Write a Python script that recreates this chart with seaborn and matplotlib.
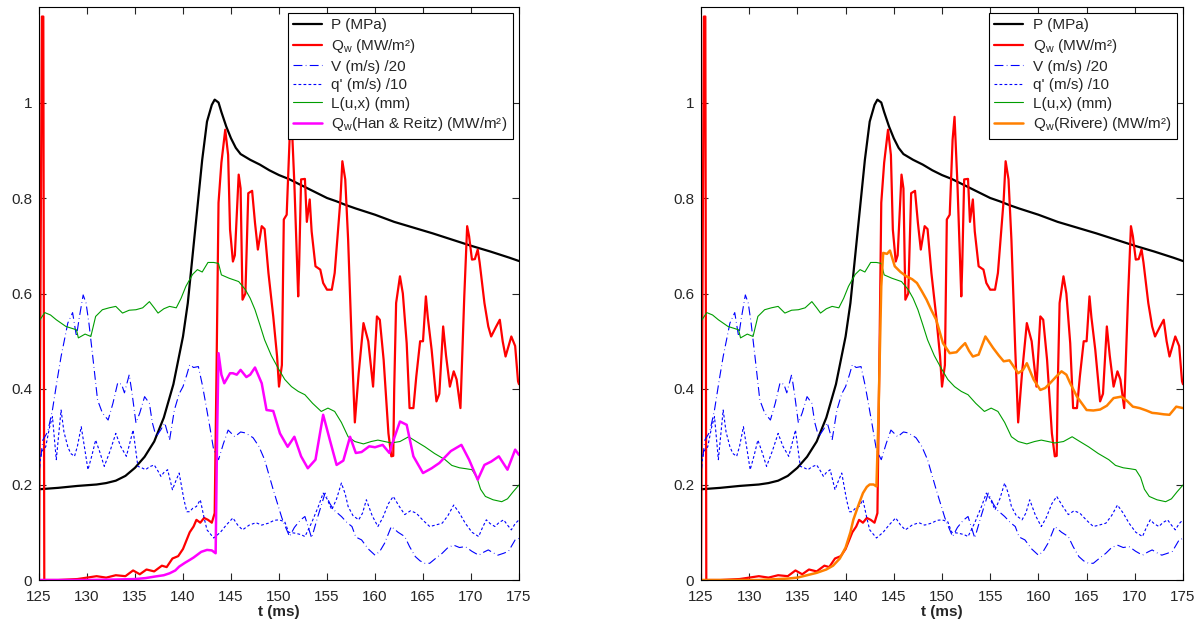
import numpy as np
import pandas as pd
import matplotlib
matplotlib.use("Agg")
import matplotlib.pyplot as plt
import seaborn as sns

# ---- data (t in ms) ----
t_p = [125, 127, 129, 131, 132, 133, 134, 135, 136, 137, 138, 139, 140, 140.5, 141, 141.5,
       142, 142.5, 143, 143.3, 143.7, 144, 144.5, 145, 145.5, 146, 147, 148, 149, 150, 151,
       152, 153, 154, 155, 156, 157, 158, 160, 162, 164, 166, 168, 170, 172, 174, 175]
p_vals = [0.19, 0.193, 0.197, 0.2, 0.203, 0.208, 0.218, 0.235, 0.258, 0.29, 0.34, 0.41, 0.51,
          0.58, 0.68, 0.78, 0.88, 0.96, 0.995, 1.006, 1.0, 0.98, 0.95, 0.925, 0.905, 0.892,
          0.88, 0.87, 0.858, 0.848, 0.84, 0.83, 0.82, 0.81, 0.8, 0.793, 0.785, 0.778, 0.765,
          0.75, 0.738, 0.726, 0.713, 0.7, 0.688, 0.675, 0.668]

t_qw = [125.0, 125.15, 125.3, 125.45, 125.55, 127, 129, 130, 131, 132, 133, 134, 134.8, 135.5,
        136.2, 137, 137.8, 138.3, 138.9, 139.5, 140, 140.4, 140.7, 141.1, 141.4, 141.8, 142.2,
        142.6, 143.0, 143.3, 143.5, 143.7, 144.0, 144.4, 144.7, 144.9, 145.2, 145.4, 145.8,
        146.0, 146.2, 146.5, 146.8, 147.2, 147.5, 147.8, 148.2, 148.5, 148.9, 149.4, 149.8,
        150.0, 150.3, 150.5, 150.8, 151.1, 151.3, 151.6, 152.0, 152.1, 152.3, 152.7, 152.9,
        153.2, 153.4, 153.8, 154.3, 154.6, 155.0, 155.5, 155.8, 156.4, 156.6, 156.9, 157.2,
        157.6, 157.9, 158.3, 158.8, 159.3, 159.8, 160.2, 160.5, 160.9, 161.4, 161.7, 161.9,
        162.0, 162.2, 162.6, 162.9, 163.3, 163.6, 164.0, 164.3, 164.7, 165.0, 165.3, 165.5,
        165.9, 166.4, 166.7, 167.1, 167.4, 167.8, 168.2, 168.5, 168.9, 169.3, 169.6, 169.8,
        170.1, 170.4, 170.7, 170.9, 171.4, 171.8, 172.1, 172.6, 173.0, 173.3, 173.6, 174.2,
        174.6, 174.9, 175.0]
qw_vals = [0.0, 0.59, 1.18, 1.18, 0.0, 0.0, 0.002, 0.005, 0.008, 0.005, 0.01, 0.008, 0.02,
           0.012, 0.022, 0.018, 0.03, 0.027, 0.045, 0.05, 0.065, 0.085, 0.1, 0.112, 0.126,
           0.12, 0.13, 0.126, 0.12, 0.14, 0.45, 0.79, 0.874, 0.943, 0.89, 0.734, 0.667, 0.68,
           0.849, 0.82, 0.587, 0.6, 0.81, 0.815, 0.748, 0.692, 0.741, 0.735, 0.643, 0.552,
           0.468, 0.405, 0.45, 0.755, 0.765, 0.922, 0.97, 0.83, 0.594, 0.66, 0.839, 0.84,
           0.75, 0.797, 0.73, 0.657, 0.65, 0.622, 0.608, 0.608, 0.643, 0.797, 0.877, 0.839,
           0.713, 0.482, 0.33, 0.433, 0.538, 0.5, 0.405, 0.552, 0.545, 0.461, 0.307, 0.259,
           0.26, 0.4, 0.58, 0.636, 0.6, 0.496, 0.36, 0.36, 0.426, 0.5, 0.5, 0.594, 0.55,
           0.482, 0.374, 0.39, 0.531, 0.47, 0.405, 0.437, 0.42, 0.36, 0.594, 0.741, 0.72,
           0.671, 0.672, 0.692, 0.665, 0.58, 0.531, 0.51, 0.53, 0.545, 0.5, 0.468, 0.51,
           0.49, 0.416, 0.41]

t_v = [125.0, 125.4, 125.9, 126.4, 126.9, 127.3, 128.0, 128.5, 128.9, 129.2, 129.6, 129.9,
       130.2, 130.6, 131.1, 131.6, 132.2, 132.7, 133.2, 133.6, 133.9, 134.4, 134.7, 135.1,
       135.5, 136.0, 136.5, 136.8, 137.2, 137.7, 138.1, 138.6, 139.1, 139.6, 140.0, 140.4,
       140.7, 141.1, 141.6, 142.0, 142.3, 142.8, 143.2, 143.7, 144.2, 144.7, 145.4, 146.0,
       146.5, 147.3, 147.9, 148.5, 149.4, 150.3, 150.7, 151.1, 151.6, 152.2, 152.7, 153.4,
       154.0, 154.8, 155.3, 155.7, 156.5, 157.1, 157.6, 158.0, 158.6, 159.3, 160.0, 160.5,
       161.0, 161.7, 162.4, 163.1, 163.6, 164.2, 164.7, 165.2, 165.7, 166.3, 167.0, 167.6,
       168.2, 168.8, 169.4, 170.1, 170.8, 171.3, 171.8, 172.3, 172.8, 173.4, 173.9, 174.6,
       175.0]
v_vals = [0.224, 0.293, 0.31, 0.356, 0.42, 0.468, 0.538, 0.56, 0.51, 0.55, 0.597, 0.58,
          0.538, 0.468, 0.377, 0.35, 0.335, 0.37, 0.413, 0.41, 0.392, 0.43, 0.39, 0.329,
          0.35, 0.384, 0.37, 0.33, 0.3, 0.315, 0.329, 0.293, 0.356, 0.39, 0.405, 0.43,
          0.451, 0.445, 0.447, 0.41, 0.377, 0.32, 0.272, 0.252, 0.285, 0.314, 0.3, 0.31,
          0.308, 0.298, 0.28, 0.252, 0.189, 0.13, 0.11, 0.091, 0.11, 0.125, 0.133, 0.088,
          0.13, 0.182, 0.16, 0.147, 0.133, 0.12, 0.112, 0.09, 0.084, 0.065, 0.052, 0.06,
          0.077, 0.112, 0.1, 0.091, 0.07, 0.049, 0.04, 0.035, 0.035, 0.045, 0.056, 0.068,
          0.073, 0.068, 0.07, 0.06, 0.052, 0.058, 0.063, 0.057, 0.052, 0.056, 0.06, 0.084,
          0.087]

t_q = [125.0, 125.3, 125.7, 126.1, 126.4, 126.8, 127.3, 127.6, 128.0, 128.3, 128.7, 129.0,
       129.4, 129.8, 130.1, 130.5, 130.9, 131.3, 131.8, 132.4, 133.0, 133.5, 134.1, 134.5,
       134.8, 135.3, 135.7, 136.1, 136.5, 137.0, 137.4, 137.7, 138.0, 138.4, 138.9, 139.3,
       139.6, 140.1, 140.4, 140.7, 141.0, 141.4, 141.8, 142.2, 142.5, 143.2, 143.9, 144.5,
       145.2, 145.7, 146.2, 146.9, 147.6, 148.2, 148.9, 149.5, 150.0, 150.6, 151.0, 151.7,
       152.3, 152.7, 153.4, 154.1, 154.6, 155.0, 155.5, 156.0, 156.5, 156.9, 157.2, 157.7,
       158.3, 158.7, 159.1, 159.7, 160.3, 160.8, 161.4, 161.9, 162.5, 163.1, 163.7, 164.3,
       165.0, 165.7, 166.3, 167.0, 167.6, 168.2, 168.8, 169.4, 170.1, 170.8, 171.2, 171.6,
       172.0, 172.5, 172.9, 173.4, 173.8, 174.2, 174.6, 175.0]
q_vals = [0.238, 0.27, 0.279, 0.32, 0.342, 0.252, 0.356, 0.31, 0.279, 0.265, 0.259, 0.28,
          0.321, 0.27, 0.231, 0.26, 0.293, 0.27, 0.238, 0.27, 0.307, 0.28, 0.259, 0.29,
          0.314, 0.238, 0.235, 0.231, 0.237, 0.241, 0.228, 0.217, 0.225, 0.231, 0.189, 0.21,
          0.224, 0.168, 0.143, 0.143, 0.15, 0.154, 0.168, 0.13, 0.105, 0.088, 0.1, 0.115,
          0.13, 0.115, 0.105, 0.115, 0.12, 0.115, 0.119, 0.125, 0.126, 0.122, 0.1, 0.098,
          0.095, 0.091, 0.12, 0.154, 0.182, 0.17, 0.147, 0.17, 0.203, 0.18, 0.154, 0.135,
          0.126, 0.14, 0.168, 0.135, 0.112, 0.13, 0.16, 0.175, 0.155, 0.137, 0.145, 0.14,
          0.125, 0.112, 0.115, 0.119, 0.135, 0.157, 0.14, 0.119, 0.1, 0.091, 0.11, 0.126,
          0.118, 0.112, 0.12, 0.126, 0.115, 0.105, 0.118, 0.126]

t_l = [125.0, 125.6, 126.2, 126.8, 127.8, 128.9, 129.1, 129.8, 130.4, 130.9, 131.6, 132.3,
       133.0, 133.7, 134.4, 135.1, 135.8, 136.5, 137.0, 137.4, 138.0, 138.6, 139.3, 139.8,
       140.3, 141.0, 141.5, 142.0, 142.6, 143.2, 143.7, 144.0, 144.8, 145.8, 146.5, 147.0,
       147.5, 148.0, 148.5, 149.2, 149.9, 150.6, 151.3, 152.0, 152.7, 153.5, 154.4, 155.1,
       155.8, 156.5, 157.2, 157.9, 158.8, 159.6, 160.3, 161.0, 161.7, 162.6, 163.5, 164.3,
       165.2, 166.2, 167.3, 168.0, 168.8, 169.5, 170.1, 170.6, 171.0, 171.5, 172.3, 173.2,
       173.8, 174.4, 175.0]
l_vals = [0.542, 0.56, 0.555, 0.545, 0.531, 0.524, 0.507, 0.515, 0.51, 0.552, 0.566, 0.57,
          0.573, 0.559, 0.565, 0.566, 0.57, 0.583, 0.57, 0.559, 0.568, 0.573, 0.57, 0.59,
          0.615, 0.64, 0.65, 0.645, 0.665, 0.665, 0.663, 0.639, 0.632, 0.625, 0.608, 0.59,
          0.566, 0.535, 0.503, 0.47, 0.444, 0.42, 0.405, 0.395, 0.388, 0.37, 0.353, 0.36,
          0.353, 0.33, 0.3, 0.29, 0.285, 0.29, 0.293, 0.29, 0.287, 0.29, 0.3, 0.29, 0.279,
          0.265, 0.252, 0.24, 0.235, 0.233, 0.231, 0.215, 0.19, 0.175, 0.168, 0.164, 0.17,
          0.185, 0.199]

# Qw model of Han & Reitz (left panel)
t_hr = [125, 130, 133, 135, 136.1, 137, 138, 138.6, 139.2, 139.6, 140.2, 140.7, 141.1,
        141.5, 141.9, 142.5, 143.0, 143.4, 143.55, 143.7, 144.0, 144.3, 144.9, 145.2, 145.6,
        146.0, 146.6, 147.0, 147.5, 148.2, 148.7, 149.4, 150.1, 150.9, 151.6, 152.3, 153.0,
        153.8, 154.6, 155.3, 156.0, 156.7, 157.4, 158.0, 158.6, 159.4, 160.0, 160.8, 161.5,
        161.7, 162.6, 163.3, 164.0, 165.0, 165.9, 166.7, 167.9, 169.0, 169.8, 170.7, 171.4,
        172.1, 172.9, 173.8, 174.6, 175.0]
hr_vals = [0, 0, 0.001, 0.002, 0.004, 0.007, 0.01, 0.014, 0.02, 0.028, 0.036, 0.042, 0.047,
           0.053, 0.059, 0.063, 0.062, 0.056, 0.3, 0.475, 0.43, 0.412, 0.433, 0.433, 0.43,
           0.44, 0.425, 0.43, 0.445, 0.412, 0.356, 0.354, 0.307, 0.279, 0.3, 0.259, 0.234,
           0.252, 0.346, 0.293, 0.241, 0.25, 0.3, 0.266, 0.268, 0.28, 0.278, 0.283, 0.266,
           0.28, 0.332, 0.325, 0.259, 0.224, 0.234, 0.245, 0.27, 0.283, 0.252, 0.21, 0.241,
           0.248, 0.259, 0.231, 0.273, 0.262]

# Qw model of Rivere (right panel)
t_riv = [125, 131, 133, 134, 135, 136, 137, 138, 138.7, 139.4, 140.0, 140.5, 140.8, 141.3,
         141.8, 142.2, 142.5, 142.9, 143.2, 143.4, 143.7, 143.9, 144.3, 144.6, 145.1, 145.7,
         146.3, 146.9, 147.4, 147.9, 148.4, 148.9, 149.4, 150.1, 150.8, 151.5, 152.0, 152.4,
         152.8, 153.2, 153.8, 154.5, 155.3, 155.9, 156.4, 157.0, 157.5, 157.9, 158.4, 158.8,
         159.5, 160.2, 160.7, 161.2, 161.8, 162.4, 162.9, 163.3, 164.0, 164.5, 165.0, 165.7,
         166.4, 167.1, 167.8, 168.6, 169.2, 169.8, 170.5, 171.2, 171.8, 172.3, 173.0, 173.6,
         174.3, 175.0]
riv_vals = [0, 0, 0.002, 0.003, 0.005, 0.01, 0.015, 0.022, 0.03, 0.045, 0.068, 0.1, 0.126,
            0.155, 0.182, 0.195, 0.2, 0.2, 0.196, 0.335, 0.615, 0.685, 0.683, 0.69, 0.657,
            0.645, 0.636, 0.63, 0.622, 0.605, 0.587, 0.565, 0.545, 0.496, 0.475, 0.477, 0.488,
            0.496, 0.48, 0.468, 0.472, 0.51, 0.486, 0.47, 0.458, 0.46, 0.445, 0.433, 0.44,
            0.454, 0.42, 0.398, 0.402, 0.412, 0.425, 0.437, 0.43, 0.412, 0.384, 0.37, 0.356,
            0.355, 0.357, 0.365, 0.381, 0.384, 0.375, 0.363, 0.36, 0.355, 0.35, 0.349, 0.347,
            0.346, 0.363, 0.36]

x_ticks = [125, 130, 135, 140, 145, 150, 155, 160, 165, 170, 175]
y_ticks = [0, 0.2, 0.4, 0.6, 0.8, 1.0]
y_tick_labels = ["0", "0.2", "0.4", "0.6", "0.8", "1"]

lbl_p = "P (MPa)"
lbl_qw = "Q$_\\mathregular{w}$ (MW/m²)"
lbl_v = "V (m/s) /20"
lbl_q = "q' (m/s) /10"
lbl_l = "L(u,x) (mm)"
lbl_hr = "Q$_\\mathregular{w}$(Han & Reitz) (MW/m²)"
lbl_riv = "Q$_\\mathregular{w}$(Rivere) (MW/m²)"

# ---- style ----
sns.set_style("ticks")
plt.rcParams["font.family"] = ["Liberation Sans", "DejaVu Sans"]
plt.rcParams["mathtext.default"] = "regular"
plt.rcParams["font.size"] = 11


def draw_panel(ax, t_model, model_vals, model_label, model_color):
    sns.lineplot(x=t_p, y=p_vals, ax=ax, color="black", lw=1.6, sort=False, label=lbl_p)
    sns.lineplot(x=t_qw, y=qw_vals, ax=ax, color="red", lw=1.6, sort=False, label=lbl_qw)
    sns.lineplot(x=t_v, y=v_vals, ax=ax, color="blue", lw=0.8, sort=False,
                 linestyle=(0, (8, 3, 0.6, 3)), label=lbl_v)
    sns.lineplot(x=t_q, y=q_vals, ax=ax, color="blue", lw=0.8, sort=False,
                 linestyle=(0, (2.5, 2)), label=lbl_q)
    sns.lineplot(x=t_l, y=l_vals, ax=ax, color=(0, 0.62, 0), lw=0.8, sort=False, label=lbl_l)
    sns.lineplot(x=t_model, y=model_vals, ax=ax, color=model_color, lw=1.8, sort=False,
                 label=model_label)

    ax.set_xlim(125, 175)
    ax.set_ylim(0, 1.2)
    ax.set_xticks(x_ticks)
    ax.set_yticks(y_ticks)
    ax.set_yticklabels(y_tick_labels)
    ax.tick_params(direction="in", length=5, width=0.8, top=True, right=True,
                   labelsize=11)
    ax.tick_params(axis="x", pad=7)
    ax.tick_params(axis="y", pad=5)
    for s in ax.spines.values():
        s.set_visible(True)
        s.set_linewidth(0.8)
        s.set_color("black")
    ax.set_xlabel("t (ms)", fontweight="bold", fontsize=11, labelpad=1)
    ax.set_ylabel("")
    leg = ax.legend(loc="upper right", fontsize=11, frameon=True, fancybox=False,
                    edgecolor="black", framealpha=1, borderaxespad=0.4,
                    handlelength=1.9, handletextpad=0.6, labelspacing=0.3,
                    borderpad=0.35)
    leg.get_frame().set_linewidth(0.8)


fig = plt.figure(figsize=(12.02, 6.26), dpi=100)
ax1 = fig.add_axes([39 / 1202, 46 / 626, 480 / 1202, 573 / 626])
ax2 = fig.add_axes([701 / 1202, 46 / 626, 482 / 1202, 573 / 626])

draw_panel(ax1, t_hr, hr_vals, lbl_hr, (1, 0, 1))
draw_panel(ax2, t_riv, riv_vals, lbl_riv, (1, 0.5, 0))

fig.savefig("out.png", dpi=100, facecolor="white")
